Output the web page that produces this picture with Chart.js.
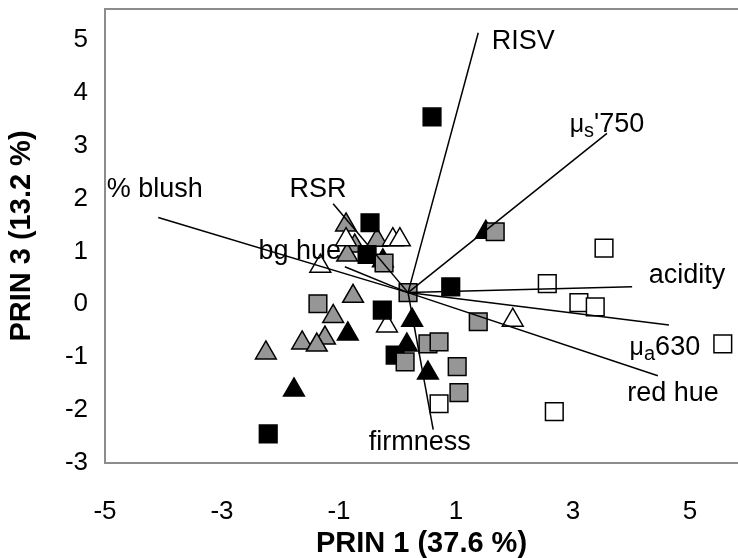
<!DOCTYPE html>
<html>
<head>
<meta charset="utf-8">
<script src="https://cdn.jsdelivr.net/npm/chart.js@4"></script>
<style>
  body { margin: 0; background: #fff; }
  #wrap { width: 738px; height: 558px; }
</style>
</head>
<body>
<div id="wrap"><canvas id="myChart" width="738" height="558"></canvas></div>
<script>
// scores, PRIN 1 vs PRIN 3
const blackSquares = [[0.59, 3.54], [-0.47, 1.54], [-0.52, 0.94], [0.91, 0.33], [-0.26, -0.11], [-0.04, -0.96], [-2.21, -2.45]];
const graySquares = [[0.18, 0.22], [1.67, 1.37], [-0.23, 0.78], [-1.36, 0.01], [1.38, -0.33], [0.52, -0.75], [0.71, -0.71], [0.13, -1.09], [1.02, -1.18], [1.05, -1.67]];
const whiteSquares = [[3.53, 1.06], [2.56, 0.39], [3.10, 0.03], [3.38, -0.05], [5.56, -0.75], [2.68, -2.03], [0.71, -1.88]];
const blackTriangles = [[1.51, 1.36], [-0.25, 0.82], [0.25, -0.30], [-0.85, -0.56], [0.16, -0.77], [0.52, -1.30], [-1.77, -1.62]];
const grayTriangles = [[-0.88, 1.50], [-0.35, 1.21], [-0.73, 1.10], [-0.86, 0.93], [-0.76, 0.15], [-1.10, -0.23], [-1.24, -0.64], [-1.63, -0.73], [-1.38, -0.77], [-2.25, -0.92]];
const whiteTriangles = [[-0.88, 1.22], [-0.08, 1.22], [0.04, 1.22], [-1.32, 0.72], [-0.18, -0.41], [1.97, -0.30]];

// loading vectors
const vectorOrigin = [0.18, 0.22];
const vectorNames = ['% blush', 'RSR', 'bg hue', 'RISV', "μs'750", 'acidity', 'μa630', 'red hue', 'firmness'];
const vectorEnds = [[-4.09, 1.64], [-1.10, 1.90], [-0.90, 0.71], [1.38, 5.13], [3.58, 3.23], [4.01, 0.33], [4.64, -0.39], [4.45, -1.35], [0.61, -2.37]];
const labelAt = [[-4.15, 2.16], [-1.36, 2.16], [-1.67, 0.99], [2.15, 4.96], [3.58, 3.39], [4.95, 0.54], [4.57, -0.82], [4.71, -1.69], [0.38, -2.62]];

const xTicks = [-5, -3, -1, 1, 3, 5];
const yTicks = [-3, -2, -1, 0, 1, 2, 3, 4, 5];

const FONT = '"Liberation Sans", Arial, sans-serif';
const toPts = arr => arr.map(p => ({x: p[0], y: p[1]}));

const lineSets = vectorEnds.map((e, i) => ({
    label: vectorNames[i],
    type: 'line',
    data: [{x: vectorOrigin[0], y: vectorOrigin[1]}, {x: e[0], y: e[1]}],
    borderColor: '#000',
    borderWidth: 1.5,
    pointRadius: 0,
    showLine: true,
    fill: false,
}));

const markerSet = (label, arr, style, fill, radius) => ({
    label: label,
    data: toPts(arr),
    pointStyle: style,
    pointRadius: radius,
    pointBackgroundColor: fill,
    pointBorderColor: '#000',
    pointBorderWidth: 1.5,
});

const labelsPlugin = {
    id: 'vectorLabels',
    afterDatasetsDraw(chart) {
        const ctx = chart.ctx;
        const xs = chart.scales.x, ys = chart.scales.y;
        ctx.save();
        ctx.fillStyle = '#000';
        ctx.textBaseline = 'middle';
        vectorNames.forEach((name, i) => {
            const px = xs.getPixelForValue(labelAt[i][0]);
            const py = ys.getPixelForValue(labelAt[i][1]);
            let parts;
            if (name.startsWith('μ')) {
                parts = [{t: 'μ', size: 25, dy: 0}, {t: name[1], size: 20, dy: 7}, {t: name.slice(2), size: 27, dy: 0}];
            } else {
                parts = [{t: name, size: 27, dy: 0}];
            }
            let total = 0;
            parts.forEach(p => {
                ctx.font = p.size + 'px ' + FONT;
                p.w = ctx.measureText(p.t).width;
                total += p.w;
            });
            let x = px - total / 2;
            ctx.textAlign = 'left';
            parts.forEach(p => {
                ctx.font = p.size + 'px ' + FONT;
                ctx.fillText(p.t, x, py + p.dy);
                x += p.w;
            });
        });
        ctx.restore();
    }
};

const framePlugin = {
    id: 'frame',
    afterDraw(chart) {
        const a = chart.chartArea, ctx = chart.ctx;
        ctx.save();
        ctx.strokeStyle = '#8c8c8c';
        ctx.lineWidth = 2;
        ctx.beginPath();
        ctx.moveTo(a.right + 2, a.top);
        ctx.lineTo(a.left, a.top);
        ctx.lineTo(a.left, a.bottom);
        ctx.lineTo(a.right + 2, a.bottom);
        ctx.stroke();
        ctx.restore();
    }
};

const config = {
    type: 'scatter',
    data: {
        datasets: [
            ...lineSets,
            markerSet('white square', whiteSquares, 'rect', '#fff', 12.5),
            markerSet('gray square', graySquares, 'rect', '#969696', 12.5),
            markerSet('black square', blackSquares, 'rect', '#000', 12.5),
            markerSet('white triangle', whiteTriangles, 'triangle', '#fff', 12),
            markerSet('gray triangle', grayTriangles, 'triangle', '#969696', 12),
            markerSet('black triangle', blackTriangles, 'triangle', '#000', 12),
        ]
    },
    options: {
        responsive: false,
        animation: false,
        layout: {
            autoPadding: false,
            padding: {top: 9, left: 0, right: 0, bottom: 0}
        },
        plugins: {
            legend: {display: false},
            tooltip: {enabled: false},
        },
        scales: {
            x: {
                type: 'linear',
                min: -5,
                max: 5.82,
                afterBuildTicks: s => { s.ticks = xTicks.map(v => ({value: v})); },
                afterFit: s => { s.height = 95; s.paddingLeft = 0; s.paddingRight = 0; },
                grid: {display: false, drawTicks: false},
                border: {display: false},
                ticks: {
                    color: '#000',
                    padding: 33,
                    font: {family: FONT, size: 26},
                },
                title: {
                    display: true,
                    text: 'PRIN 1 (37.6 %)',
                    color: '#000',
                    padding: {top: 0, bottom: 0},
                    font: {family: FONT, size: 29, weight: 'bold', lineHeight: 1},
                },
            },
            y: {
                type: 'linear',
                min: -3,
                max: 5.58,
                afterBuildTicks: s => { s.ticks = yTicks.map(v => ({value: v})); },
                afterFit: s => { s.width = 105; s.paddingTop = 0; s.paddingBottom = 0; },
                grid: {display: false, drawTicks: false},
                border: {display: false},
                ticks: {
                    color: '#000',
                    padding: 17,
                    font: {family: FONT, size: 26},
                },
                title: {
                    display: true,
                    text: 'PRIN 3 (13.2 %)',
                    color: '#000',
                    padding: {top: 7, bottom: 0},
                    font: {family: FONT, size: 29, weight: 'bold', lineHeight: 1},
                },
            },
        },
    },
    plugins: [labelsPlugin, framePlugin],
};

const graphe = new Chart(document.getElementById('myChart'), config);
</script>
</body>
</html>
